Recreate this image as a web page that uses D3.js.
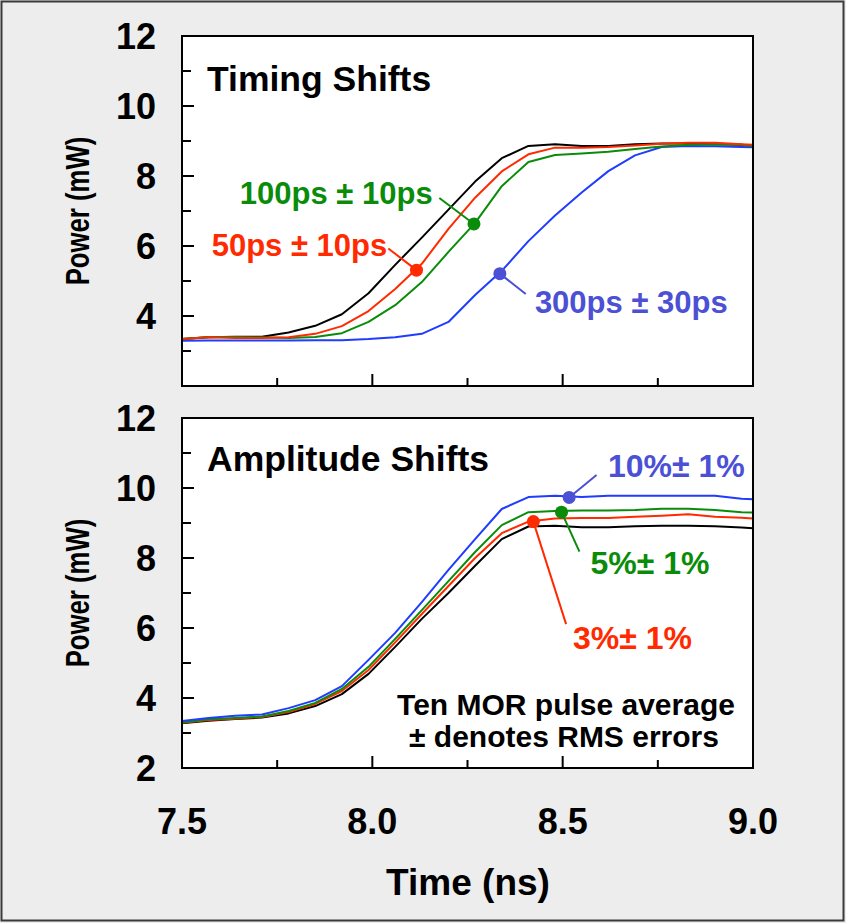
<!DOCTYPE html>
<html>
<head>
<meta charset="utf-8">
<script src="https://cdn.jsdelivr.net/npm/d3@7"></script>
<style>
  html, body { margin: 0; padding: 0; background: #ededed; }
  svg { display: block; }
  text { font-family: "Liberation Sans", Arial, Helvetica, sans-serif; font-weight: bold; }
</style>
</head>
<body>
<svg id="chart" width="846" height="923"></svg>
<script>
// Sample times (ns)
const time = [7.50, 7.57, 7.64, 7.71, 7.78, 7.85, 7.92, 7.99, 8.06, 8.13, 8.20, 8.27,
              8.34, 8.41, 8.48, 8.55, 8.62, 8.69, 8.76, 8.83, 8.90, 8.97, 9.00];

// Timing shifts panel (mW)
const timingRef = [3.34, 3.39, 3.41, 3.41, 3.53, 3.72, 4.05, 4.65, 5.46, 6.24, 7.04, 7.84,
                   8.51, 8.86, 8.91, 8.86, 8.86, 8.91, 8.93, 8.93, 8.91, 8.89, 8.86];
const timing50  = [3.34, 3.39, 3.37, 3.37, 3.39, 3.49, 3.71, 4.14, 4.77, 5.49, 6.49, 7.38,
                   8.13, 8.62, 8.81, 8.81, 8.83, 8.87, 8.92, 8.95, 8.95, 8.91, 8.89];
const timing100 = [3.34, 3.40, 3.40, 3.39, 3.37, 3.40, 3.51, 3.83, 4.31, 4.97, 5.83, 6.66,
                   7.71, 8.40, 8.60, 8.64, 8.69, 8.77, 8.84, 8.89, 8.91, 8.89, 8.86];
const timing300 = [3.29, 3.30, 3.30, 3.30, 3.30, 3.31, 3.31, 3.34, 3.39, 3.49, 3.83, 4.60,
                   5.29, 6.14, 6.87, 7.53, 8.14, 8.59, 8.83, 8.86, 8.85, 8.83, 8.82];

// Amplitude shifts panel (mW)
const ampRef = [3.28, 3.35, 3.40, 3.44, 3.56, 3.77, 4.11, 4.69, 5.46, 6.26, 7.00, 7.78,
                8.54, 8.90, 8.92, 8.88, 8.88, 8.91, 8.92, 8.92, 8.91, 8.87, 8.85];
const amp3   = [3.29, 3.37, 3.41, 3.46, 3.60, 3.83, 4.20, 4.80, 5.59, 6.40, 7.20, 8.00,
                8.71, 9.04, 9.13, 9.14, 9.14, 9.18, 9.21, 9.25, 9.18, 9.15, 9.13];
const amp5   = [3.30, 3.39, 3.43, 3.47, 3.63, 3.86, 4.26, 4.89, 5.69, 6.51, 7.34, 8.17,
                8.94, 9.31, 9.34, 9.36, 9.36, 9.37, 9.41, 9.41, 9.37, 9.31, 9.30];
const amp10  = [3.34, 3.43, 3.49, 3.53, 3.71, 3.94, 4.34, 5.09, 5.86, 6.74, 7.66, 8.54,
                9.40, 9.74, 9.78, 9.74, 9.78, 9.78, 9.78, 9.78, 9.78, 9.69, 9.68];

// Axis ticks
const xTickLabels = ["7.5", "8.0", "8.5", "9.0"];
const xTickValues = [7.5, 8.0, 8.5, 9.0];
const yTicksTop = [4, 6, 8, 10, 12];
const yTicksBottom = [2, 4, 6, 8, 10, 12];

// Callouts: marker point on the curve, end of the leader, text position
const timingNotes = [
  { text: "100ps \u00B1 10ps", color: "#0a8c0a", dot: [8.267, 6.63], end: [8.176, 7.37], label: [7.652, 7.20] },
  { text: "50ps \u00B1 10ps",  color: "#ff2a00", dot: [8.116, 5.31], end: [8.042, 5.93], label: [7.578, 5.72] },
  { text: "300ps \u00B1 30ps", color: "#4b50d4", dot: [8.335, 5.21], end: [8.403, 4.63], label: [8.427, 4.09] }
];
const ampNotes = [
  { text: "10%\u00B1 1%", color: "#4b50d4", dot: [8.517, 9.73], end: [8.589, 10.37], label: [8.619, 10.31] },
  { text: "5%\u00B1 1%",  color: "#0a8c0a", dot: [8.497, 9.31], end: [8.544, 8.18],  label: [8.573, 7.54] },
  { text: "3%\u00B1 1%",  color: "#ff2a00", dot: [8.423, 9.04], end: [8.509, 6.11],  label: [8.527, 5.41] }
];

const COLORS = { black: "#000000", red: "#ff2a00", green: "#0a8c0a", blue: "#1f3cff" };

const svg = d3.select("#chart");

// Page frame
svg.append("rect")
  .attr("x", 1.5).attr("y", 1.5).attr("width", 842).attr("height", 919)
  .attr("fill", "#ededed").attr("stroke", "#3a3a3a").attr("stroke-width", 2);

const x = d3.scaleLinear().domain([7.5, 9.0]).range([182, 753]);

function panel(cfg) {
  const y = d3.scaleLinear().domain([2, 12]).range([cfg.bottom, cfg.top]);
  const g = svg.append("g");
  const clipId = "clip-" + cfg.id;
  const [x0, x1] = x.range();

  g.append("clipPath").attr("id", clipId)
    .append("rect")
    .attr("x", x0).attr("y", cfg.top)
    .attr("width", x1 - x0).attr("height", cfg.bottom - cfg.top);

  g.append("rect")
    .attr("x", x0).attr("y", cfg.top)
    .attr("width", x1 - x0).attr("height", cfg.bottom - cfg.top)
    .attr("fill", "#ffffff");

  // Inward ticks: major every 2 mW, minor every 1 mW
  const yTicks = d3.range(3, 12, 1);
  g.selectAll(".ytick").data(yTicks).join("line")
    .attr("x1", x0).attr("x2", d => x0 + (d % 2 === 0 ? 12 : 9))
    .attr("y1", d => y(d)).attr("y2", d => y(d))
    .attr("stroke", "#000").attr("stroke-width", 2);

  // Inward ticks: major every 0.5 ns, minor every 0.25 ns
  const xTicks = [7.75, 8.0, 8.25, 8.5, 8.75];
  g.selectAll(".xtick").data(xTicks).join("line")
    .attr("x1", d => x(d)).attr("x2", d => x(d))
    .attr("y1", cfg.bottom).attr("y2", d => cfg.bottom - (d % 0.5 === 0 ? 12 : 8))
    .attr("stroke", "#000").attr("stroke-width", 2);

  const line = d3.line().x((d, i) => x(time[i])).y(d => y(d));
  const lines = g.append("g").attr("clip-path", `url(#${clipId})`);
  cfg.series.forEach(s => {
    lines.append("path")
      .attr("d", line(s.values))
      .attr("fill", "none")
      .attr("stroke", s.color)
      .attr("stroke-width", 2)
      .attr("stroke-linejoin", "round");
  });

  // Callouts
  cfg.notes.forEach(n => {
    g.append("line")
      .attr("x1", x(n.dot[0])).attr("y1", y(n.dot[1]))
      .attr("x2", x(n.end[0])).attr("y2", y(n.end[1]))
      .attr("stroke", n.color).attr("stroke-width", 2);
    g.append("circle")
      .attr("cx", x(n.dot[0])).attr("cy", y(n.dot[1])).attr("r", 6.5)
      .attr("fill", n.color);
    g.append("text")
      .attr("x", x(n.label[0])).attr("y", y(n.label[1]))
      .attr("font-size", cfg.noteSize)
      .attr("fill", n.color)
      .text(n.text);
  });

  // Plot frame
  g.append("rect")
    .attr("x", x0).attr("y", cfg.top)
    .attr("width", x1 - x0).attr("height", cfg.bottom - cfg.top)
    .attr("fill", "none").attr("stroke", "#000").attr("stroke-width", 2);

  // Y tick labels
  g.selectAll(".ylab").data(cfg.yLabels).join("text")
    .attr("x", 156).attr("y", d => y(d))
    .attr("dy", "0.36em")
    .attr("text-anchor", "end")
    .attr("font-size", 36)
    .text(d => d);

  // Panel title
  g.append("text")
    .attr("x", 207).attr("y", cfg.titleY)
    .attr("font-size", 35.5)
    .text(cfg.title);

  // Y axis title (condensed lettering)
  g.append("text")
    .attr("transform", `translate(89,${(cfg.top + cfg.bottom) / 2}) rotate(-90) scale(0.78,1)`)
    .attr("text-anchor", "middle")
    .attr("font-size", 33)
    .text("Power (mW)");

  return { g, y };
}

panel({
  id: "timing", top: 36, bottom: 386, titleY: 91, title: "Timing Shifts",
  yLabels: yTicksTop, noteSize: 31,
  series: [
    { values: timingRef, color: COLORS.black },
    { values: timing300, color: COLORS.blue },
    { values: timing100, color: COLORS.green },
    { values: timing50,  color: COLORS.red }
  ],
  notes: timingNotes
});

const bottomPanel = panel({
  id: "amp", top: 418, bottom: 768, titleY: 471, title: "Amplitude Shifts",
  yLabels: yTicksBottom, noteSize: 32,
  series: [
    { values: ampRef, color: COLORS.black },
    { values: amp3,   color: COLORS.red },
    { values: amp5,   color: COLORS.green },
    { values: amp10,  color: COLORS.blue }
  ],
  notes: ampNotes
});

// Footnote inside the lower panel
const foot = bottomPanel.g.append("text")
  .attr("text-anchor", "middle")
  .attr("font-size", 30)
  .attr("fill", "#000");
foot.append("tspan").attr("x", 566).attr("y", 715).text("Ten MOR pulse average");
foot.append("tspan").attr("x", 564).attr("y", 747).text("\u00B1 denotes RMS errors");

// Shared time axis labels
svg.selectAll(".xlab").data(xTickValues).join("text")
  .attr("x", d => x(d)).attr("y", 834)
  .attr("text-anchor", "middle")
  .attr("font-size", 36)
  .text((d, i) => xTickLabels[i]);

svg.append("text")
  .attr("x", 468).attr("y", 895)
  .attr("text-anchor", "middle")
  .attr("font-size", 37)
  .text("Time (ns)");
</script>
</body>
</html>
